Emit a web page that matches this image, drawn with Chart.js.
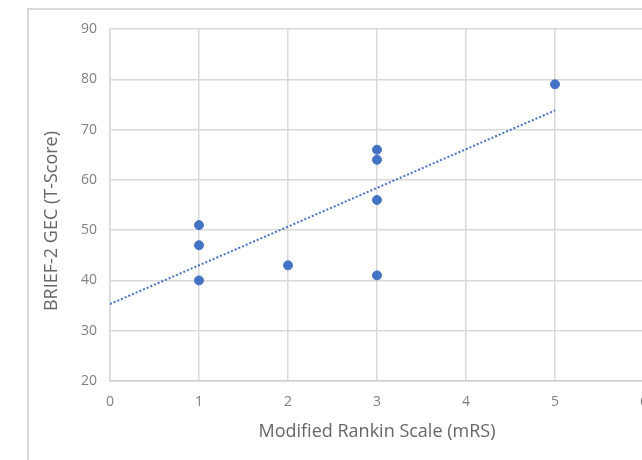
<!DOCTYPE html>
<html>
<head>
<meta charset="utf-8">
<script src="https://cdn.jsdelivr.net/npm/chart.js@4/dist/chart.umd.min.js"></script>
<style>
  html, body { margin: 0; padding: 0; background: #fff; overflow: hidden; width: 642px; height: 460px; }
  #frame { position: absolute; left: 27px; top: 8px; width: 700px; height: 500px;
           border-left: 2px solid #d9d9d9; border-top: 2px solid #d9d9d9; }
  #wrap { position: absolute; left: 0; top: 0; width: 700px; height: 460px; }
</style>
</head>
<body>
<div id="frame"></div>
<div id="wrap"><canvas id="c" width="700" height="460"></canvas></div>
<script>
// Data
const mrsValues = [1, 1, 1, 2, 3, 3, 3, 3, 5];
const gecValues = [51, 47, 40, 43, 66, 64, 56, 41, 79];
const trendX = [0, 5];
const trendY = [35.3, 73.8];
const xTicks = [0, 1, 2, 3, 4, 5, 6];
const yTicks = [20, 30, 40, 50, 60, 70, 80, 90];
const xTitle = 'Modified Rankin Scale (mRS)';
const yTitle = 'BRIEF-2 GEC (T-Score)';

const points = mrsValues.map((x, i) => ({ x: x, y: gecValues[i] }));
const trend = trendX.map((x, i) => ({ x: x, y: trendY[i] }));

const titlePlugin = {
  id: 'axisTitles',
  afterDraw(chart) {
    const ctx = chart.ctx;
    const a = chart.chartArea;
    ctx.save();
    ctx.fillStyle = '#666666';
    ctx.font = '18px "Open Sans", sans-serif';
    ctx.textAlign = 'center';
    ctx.textBaseline = 'middle';
    ctx.fillText(xTitle, (a.left + a.right) / 2, 432);
    ctx.translate(52, 221);
    ctx.rotate(-Math.PI / 2);
    ctx.fillText(yTitle, 0, 0);
    ctx.restore();
  }
};

new Chart(document.getElementById('c'), {
  type: 'scatter',
  data: {
    datasets: [
      {
        label: 'Trend',
        data: trend,
        type: 'line',
        showLine: true,
        borderColor: '#4472C4',
        borderWidth: 2,
        borderDash: [2, 2],
        pointRadius: 0,
        fill: false,
        order: 2
      },
      {
        label: 'GEC',
        data: points,
        backgroundColor: '#4472C4',
        borderColor: '#4472C4',
        pointRadius: 4.5,
        pointHoverRadius: 4.5,
        order: 1
      }
    ]
  },
  options: {
    responsive: false,
    animation: false,
    layout: { padding: { left: 0, top: 29, right: 56, bottom: 0 } },
    plugins: { legend: { display: false }, tooltip: { enabled: false } },
    scales: {
      x: {
        type: 'linear',
        min: xTicks[0],
        max: xTicks[xTicks.length - 1],
        afterBuildTicks: s => { s.ticks = xTicks.map(v => ({ value: v })); },
        afterFit: s => { s.height = 79; },
        grid: { color: '#d9d9d9', lineWidth: 1.5, drawTicks: false },
        border: { color: '#cfcfcf', width: 1.5 },
        ticks: { color: '#808080', font: { family: '"Open Sans", sans-serif', size: 14 }, padding: 13 }
      },
      y: {
        type: 'linear',
        min: yTicks[0],
        max: yTicks[yTicks.length - 1],
        afterBuildTicks: s => { s.ticks = yTicks.map(v => ({ value: v })); },
        afterFit: s => { s.width = 110; },
        grid: { color: '#d9d9d9', lineWidth: 1.5, drawTicks: false },
        border: { color: '#d9d9d9', width: 1.5 },
        ticks: { color: '#808080', font: { family: '"Open Sans", sans-serif', size: 14 }, padding: 13 }
      }
    }
  },
  plugins: [titlePlugin]
});
</script>
</body>
</html>
